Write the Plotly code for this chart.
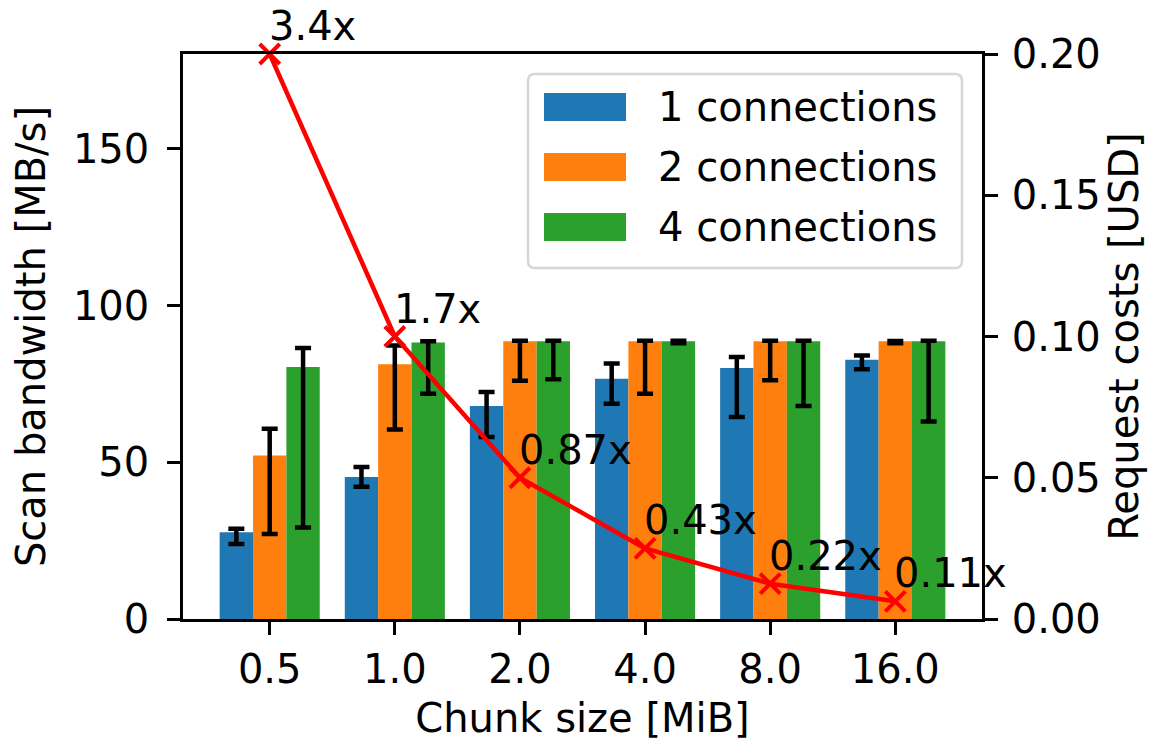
import plotly.graph_objects as go

# ---------------- data ----------------
chunk_labels = ["0.5", "1.0", "2.0", "4.0", "8.0", "16.0"]
series_names = ["1 connections", "2 connections", "4 connections"]
series_colors = ["#1f77b4", "#ff7f0e", "#2ca02c"]

bw_1 = [27.7, 45.3, 68.0, 76.7, 80.1, 82.7]
bw_1_hi = [28.8, 48.5, 72.4, 81.5, 83.6, 84.1]
bw_1_lo = [23.9, 42.2, 58.1, 68.7, 64.5, 79.7]

bw_2 = [52.2, 81.3, 88.6, 88.6, 88.6, 88.6]
bw_2_hi = [60.7, 87.3, 88.8, 88.8, 88.8, 88.7]
bw_2_lo = [27.1, 60.5, 76.0, 71.9, 76.2, 88.0]

bw_4 = [80.4, 88.2, 88.6, 88.6, 88.6, 88.6]
bw_4_hi = [86.5, 88.6, 88.8, 88.8, 88.8, 88.8]
bw_4_lo = [29.2, 71.9, 76.5, 88.0, 68.0, 63.0]

cost_usd = [0.2, 0.1, 0.05, 0.025, 0.0125, 0.00625]
cost_labels = ["3.4x", "1.7x", "0.87x", "0.43x", "0.22x", "0.11x"]

# ---------------- figure ----------------
FONT = "DejaVu Sans"
FS = 40
OFF = 8  # page body margin
W, H = 1158 - OFF, 744 - OFF
# plot area in screen pixels: x 183..982, y 54..619.3
SL, SR, ST, SB = 183, 982, 54, 619.3
ML, MT = SL - OFF, ST - OFF
MR, MB = W - (SR - OFF), H - (SB - OFF)
PW, PH = SR - SL, SB - ST

xpos = list(range(len(chunk_labels)))
fig = go.Figure()

for name, color, vals, hi, lo in zip(
        series_names, series_colors,
        [bw_1, bw_2, bw_4], [bw_1_hi, bw_2_hi, bw_4_hi], [bw_1_lo, bw_2_lo, bw_4_lo]):
    fig.add_trace(go.Bar(
        x=xpos, y=vals, name=name, marker=dict(color=color, line=dict(width=0)),
        error_y=dict(type="data", symmetric=False,
                     array=[h - v for h, v in zip(hi, vals)],
                     arrayminus=[v - l for v, l in zip(vals, lo)],
                     color="black", thickness=4.5, width=8),
        showlegend=False,
    ))

fig.add_trace(go.Scatter(
    x=xpos, y=cost_usd, yaxis="y2", mode="lines+markers",
    line=dict(color="#ff0000", width=4.5),
    marker=dict(symbol="x-thin", size=20, line=dict(color="#ff0000", width=4)),
    showlegend=False, cliponaxis=False,
))

for xv, yv, txt in zip(xpos, cost_usd, cost_labels):
    fig.add_annotation(x=xv, y=yv, yref="y2", text=txt, showarrow=False,
                       xanchor="left", yanchor="bottom", xshift=-3, yshift=3,
                       font=dict(family=FONT, size=FS, color="black"))

# custom matplotlib-like legend (positions in screen pixels)
def px_x(p):
    return (p - SL) / PW

def px_y(p):
    return (SB - p) / PH

lx0, lx1, ly0, ly1, r = 528, 962, 74, 268, 7
path = (f"M {px_x(lx0 + r)},{px_y(ly0)} L {px_x(lx1 - r)},{px_y(ly0)} "
        f"Q {px_x(lx1)},{px_y(ly0)} {px_x(lx1)},{px_y(ly0 + r)} "
        f"L {px_x(lx1)},{px_y(ly1 - r)} Q {px_x(lx1)},{px_y(ly1)} {px_x(lx1 - r)},{px_y(ly1)} "
        f"L {px_x(lx0 + r)},{px_y(ly1)} Q {px_x(lx0)},{px_y(ly1)} {px_x(lx0)},{px_y(ly1 - r)} "
        f"L {px_x(lx0)},{px_y(ly0 + r)} Q {px_x(lx0)},{px_y(ly0)} {px_x(lx0 + r)},{px_y(ly0)} Z")
fig.add_shape(type="path", path=path, xref="paper", yref="paper",
              line=dict(color="#d6d6d6", width=2.5), fillcolor="rgba(255,255,255,0.85)",
              layer="above")
row_centers = [107, 167, 227]
for name, color, cy in zip(series_names, series_colors, row_centers):
    fig.add_shape(type="rect", xref="paper", yref="paper",
                  x0=px_x(544), x1=px_x(626), y0=px_y(cy - 14), y1=px_y(cy + 14),
                  fillcolor=color, line=dict(width=0), layer="above")
    fig.add_annotation(xref="paper", yref="paper", x=px_x(656), y=px_y(cy),
                       text=name, showarrow=False, xanchor="left", yanchor="middle",
                       font=dict(family=FONT, size=FS, color="black"))

axis_common = dict(
    showline=True, linecolor="black", linewidth=2.5,
    ticks="outside", ticklen=13, tickwidth=2.5, tickcolor="black",
    showgrid=False, zeroline=False,
    tickfont=dict(family=FONT, size=FS, color="black"),
)

fig.update_layout(
    width=W, height=H,
    margin=dict(l=ML, r=MR, t=MT, b=MB, autoexpand=False),
    paper_bgcolor="white", plot_bgcolor="white",
    barmode="group", bargap=0.2, bargroupgap=0,
    font=dict(family=FONT, size=FS, color="black"),
    xaxis=dict(**axis_common, mirror=True, range=[-0.693, 5.693],
               tickvals=xpos, ticktext=chunk_labels,
               title=dict(text="Chunk size [MiB]", standoff=14,
                          font=dict(family=FONT, size=FS))),
    yaxis=dict(**axis_common, range=[0, 180.3], tickvals=[0, 50, 100, 150],
               ticklabelstandoff=10,
               title=dict(text="Scan bandwidth [MB/s]", standoff=20,
                          font=dict(family=FONT, size=FS))),
    yaxis2=dict(**axis_common, overlaying="y", side="right", range=[0, 0.2],
                tickvals=[0, 0.05, 0.10, 0.15, 0.20], tickformat=".2f",
                ticklabelstandoff=6,
                title=dict(text="Request costs [USD]", standoff=10,
                           font=dict(family=FONT, size=FS))),
)

fig.write_html("out.html")
